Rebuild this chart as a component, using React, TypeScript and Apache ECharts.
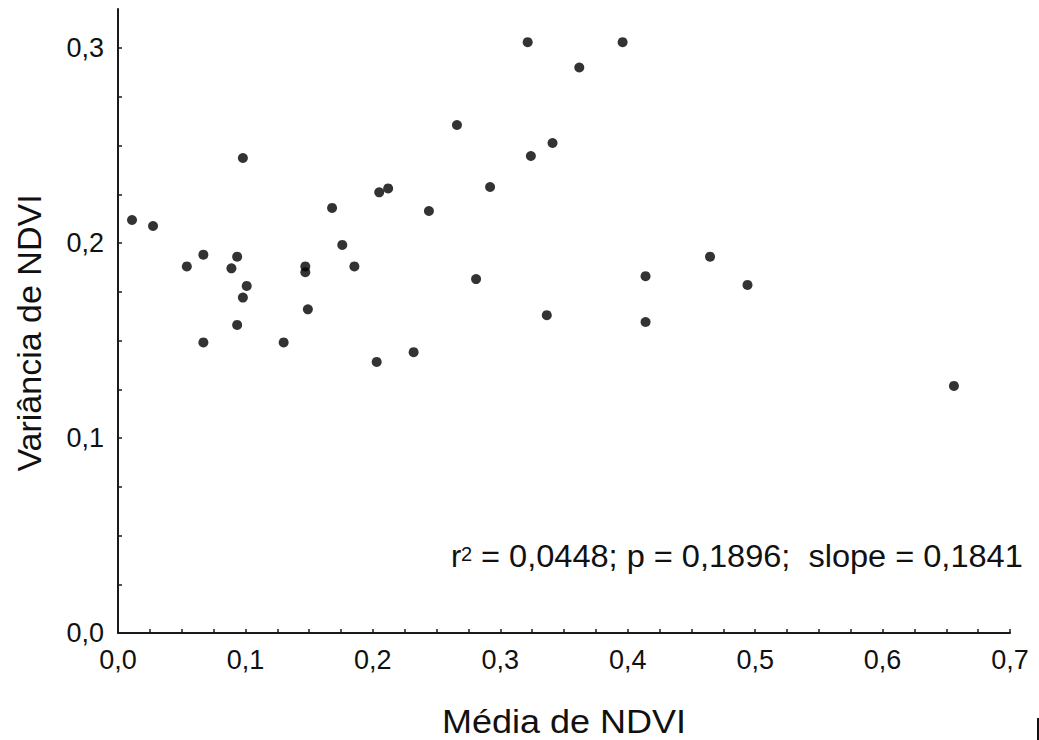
import React, { useEffect, useRef } from "react";
import * as echarts from "echarts";

const mediaNDVI = [
  0.011, 0.0275, 0.054, 0.067, 0.067, 0.089, 0.0935, 0.0935, 0.098, 0.098,
  0.101, 0.13, 0.147, 0.147, 0.149, 0.168, 0.176, 0.1855, 0.203, 0.205,
  0.212, 0.232, 0.244, 0.266, 0.281, 0.292, 0.3215, 0.324, 0.3365, 0.341,
  0.362, 0.396, 0.414, 0.414, 0.4646, 0.494, 0.656,
];
const varianciaNDVI = [
  0.2118, 0.2087, 0.188, 0.194, 0.149, 0.187, 0.193, 0.158, 0.2436, 0.172,
  0.178, 0.149, 0.188, 0.185, 0.166, 0.218, 0.199, 0.188, 0.139, 0.226,
  0.228, 0.144, 0.2164, 0.2605, 0.1815, 0.2287, 0.303, 0.2446, 0.163, 0.2513,
  0.29, 0.303, 0.183, 0.1595, 0.193, 0.1785, 0.1267,
];

const xTicks = [
  0, 0.025, 0.05, 0.075, 0.1, 0.125, 0.15, 0.175, 0.2, 0.225, 0.25, 0.275,
  0.3, 0.325, 0.35, 0.375, 0.4, 0.425, 0.45, 0.475, 0.5, 0.525, 0.55, 0.575,
  0.6, 0.625, 0.65, 0.675, 0.7,
];
const xLabels = [0, 0.1, 0.2, 0.3, 0.4, 0.5, 0.6, 0.7];
const yTicks = [
  0, 0.025, 0.05, 0.075, 0.1, 0.125, 0.15, 0.175, 0.2, 0.225, 0.25, 0.275, 0.3,
];
const yLabels = [0, 0.1, 0.2, 0.3];

const xTitle = "Média de NDVI";
const yTitle = "Variância de NDVI";
const statsText = " = 0,0448; p = 0,1896;  slope = 0,1841";

const FONT = "'Liberation Sans', Arial, sans-serif";
const AXIS_COLOR = "#1a1a1a";

const fmt = (v: number) => v.toFixed(1).replace(".", ",");

export default function App() {
  const ref = useRef<HTMLDivElement>(null);

  useEffect(() => {
    if (!ref.current) return;
    const chart = echarts.init(ref.current, undefined, { renderer: "svg" });
    const data = mediaNDVI.map((x, i) => [x, varianciaNDVI[i]]);
    const axisCommon = {
      axisLine: { show: true, lineStyle: { color: AXIS_COLOR, width: 2 } },
      axisTick: { show: true, inside: true, length: 4, lineStyle: { color: AXIS_COLOR, width: 1.5 } },
      splitLine: { show: false },
      minorTick: { show: false },
    };
    chart.setOption({
      animation: false,
      backgroundColor: "#ffffff",
      grid: { left: 118, right: 29, top: 9, bottom: 107, containLabel: false },
      xAxis: {
        type: "value",
        min: 0,
        max: 0.7,
        ...axisCommon,
        axisTick: { ...axisCommon.axisTick, customValues: xTicks },
        axisLabel: {
          customValues: xLabels,
          formatter: fmt,
          fontFamily: FONT,
          fontSize: 27,
          color: "#111",
          margin: 13,
        },
      },
      yAxis: {
        type: "value",
        min: 0,
        max: 0.32,
        ...axisCommon,
        axisTick: { ...axisCommon.axisTick, customValues: yTicks },
        axisLabel: {
          customValues: yLabels,
          formatter: fmt,
          fontFamily: FONT,
          fontSize: 27,
          color: "#111",
          margin: 14,
        },
      },
      series: [
        {
          type: "scatter",
          data,
          symbol: "circle",
          symbolSize: 10,
          itemStyle: { color: "#000" },
        },
      ],
      graphic: [
        {
          type: "text",
          x: 564,
          y: 721,
          scaleX: 1.06,
          style: {
            text: xTitle,
            font: `34px ${FONT}`,
            fill: "#111",
            align: "center",
            verticalAlign: "middle",
          },
        },
        {
          type: "text",
          x: 29,
          y: 333,
          rotation: Math.PI / 2,
          style: {
            text: yTitle,
            font: `34px ${FONT}`,
            fill: "#111",
            align: "center",
            verticalAlign: "middle",
          },
        },
        {
          type: "text",
          x: 451,
          y: 572,
          style: {
            text: "r",
            font: `31px ${FONT}`,
            fill: "#111",
            align: "left",
            verticalAlign: "bottom",
          },
        },
        {
          type: "text",
          x: 461,
          y: 544,
          style: {
            text: "2",
            font: `20px ${FONT}`,
            fill: "#111",
            align: "left",
            verticalAlign: "top",
          },
        },
        {
          type: "text",
          x: 472,
          y: 572,
          scaleX: 1.05,
          style: {
            text: statsText,
            font: `31px ${FONT}`,
            fill: "#111",
            align: "left",
            verticalAlign: "bottom",
          },
        },
        {
          type: "line",
          shape: { x1: 1038, y1: 718, x2: 1038, y2: 740 },
          style: { stroke: "#111", lineWidth: 2 },
        },
      ],
    });
    return () => chart.dispose();
  }, []);

  return (
    <div
      ref={ref}
      style={{ position: "fixed", left: 0, top: 0, width: 1039, height: 740, background: "#fff" }}
    />
  );
}
